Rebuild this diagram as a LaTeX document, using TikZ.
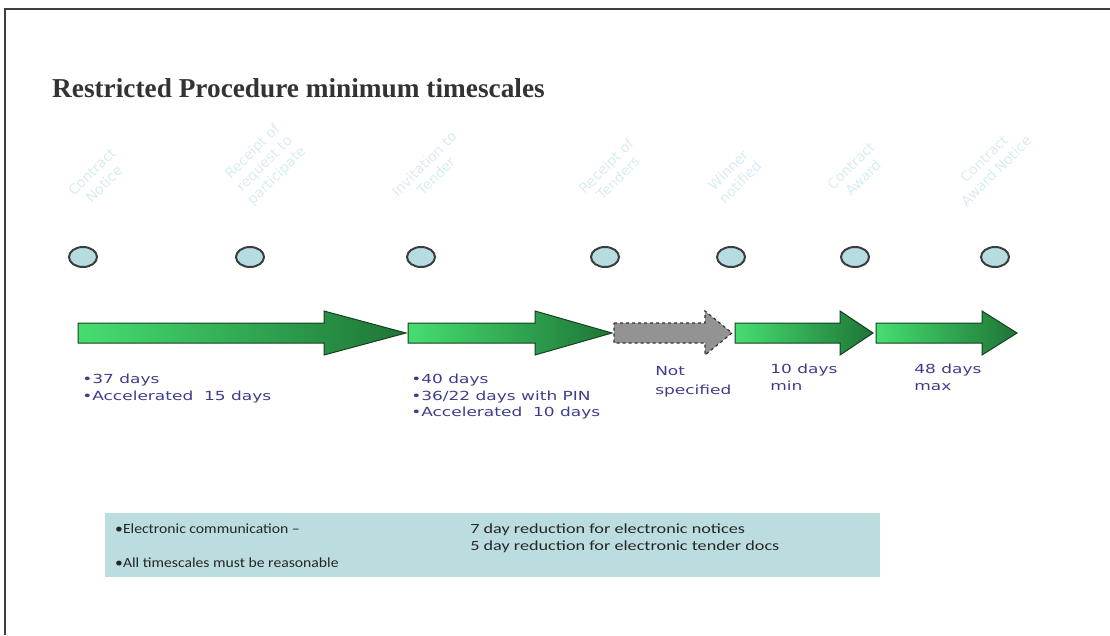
\documentclass[tikz,border=0pt]{standalone}
\usepackage{fontspec}
\setmainfont{Liberation Serif}
\setsansfont{DejaVu Sans}
\newfontfamily\boxfont{Carlito}
\usetikzlibrary{shapes.geometric,positioning}

\definecolor{titlegray}{HTML}{333333}
\definecolor{evfill}{HTML}{B5DCE0}
\definecolor{evline}{HTML}{3C3C3C}
\definecolor{evtext}{HTML}{D8ECF1}
\definecolor{arrowlight}{HTML}{46DE70}
\definecolor{arrowdark}{HTML}{1E7536}
\definecolor{arrowline}{HTML}{17401F}
\definecolor{daytext}{HTML}{3E3D8C}
\definecolor{notefill}{HTML}{BCDDE0}

% arrow: left end, head base, tip
\newcommand{\stagearrow}[4][]{%
  \draw[#1] (#2,323) -- (#3,323) -- (#3,311) -- (#4,333) -- (#3,355) -- (#3,343) -- (#2,343) -- cycle;}

\tikzset{
  event/.style={ellipse, draw=evline, line width=2, fill=evfill, minimum width=28, minimum height=20, inner sep=0},
  evlabel/.style={rotate=45, text=evtext, font=\sffamily\fontsize{14}{17}\selectfont, align=center},
  greenstage/.style={left color=arrowlight, right color=arrowdark, draw=arrowline, line width=1},
  openstage/.style={fill=gray!85, draw=gray!40!black, dashed, line width=1.2},
  days/.style={anchor=north west, text=daytext, align=left, inner sep=0, xscale=1.36, font=\sffamily\fontsize{12.5}{16.5}\selectfont},
  note/.style={anchor=north west, inner sep=0, align=left, text=black!85, font=\boxfont\fontsize{14}{17}\selectfont}
}

\begin{document}
\begin{tikzpicture}[x=1pt, y=-1pt]
    \useasboundingbox (0,0) rectangle (1110,635);
    % Frame
    \draw[line width=2, black!75] (4.5,635) -- (4.5,9) -- (1110,9);

    % Title
    \node[anchor=base west, inner sep=0, text=titlegray, font=\bfseries\fontsize{27.3}{30}\selectfont] (title) at (52,97) {Restricted Procedure minimum timescales};

    % Events
    \node[event] (ev1) at (83,257) {};
    \node[event] (ev2) at (250,257) {};
    \node[event] (ev3) at (421,257) {};
    \node[event] (ev4) at (605,257) {};
    \node[event] (ev5) at (731,257) {};
    \node[event] (ev6) at (855,257) {};
    \node[event] (ev7) at (995,257) {};

    \node[evlabel] (lb1) at (98,178) {Contract\\Notice};
    \node[evlabel] (lb2) at (265,164) {Receipt of\\request to\\participate};
    \node[evlabel] (lb3) at (430,170) {Invitation to\\Tender};
    \node[evlabel] (lb4) at (612,172) {Receipt of\\Tenders};
    \node[evlabel] (lb5) at (734,176) {Winner\\notified};
    \node[evlabel] (lb6) at (857,172) {Contract\\Award};
    \node[evlabel] (lb7) at (990,165) {Contract\\Award Notice};

    % Stages
    \stagearrow[greenstage]{78}{324}{406}
    \stagearrow[greenstage]{408}{535}{612}
    \stagearrow[openstage]{614}{705}{732}
    \stagearrow[greenstage]{735}{840}{873}
    \stagearrow[greenstage]{876}{982}{1017}

    % Durations
    \node[days] (d1) at (82,374) {•37 days\\•Accelerated\ \ 15 days};
    \node[days] (d2) at (411,374) {•40 days\\•36/22 days with PIN\\•Accelerated\ \ 10 days};
    \node[days, font=\sffamily\fontsize{12.5}{19}\selectfont] (d3) at (655,366) {Not\\specified};
    \node[days] (d4) at (770,364) {10 days\\min};
    \node[days] (d5) at (914,364) {48 days\\max};

    % Notes
    \fill[notefill] (105,513) rectangle (880,577);
    \node[note, xscale=1.12] (n1) at (115,524) {•Electronic communication –\\[17pt]•All timescales must be reasonable};
    \node[note, xscale=1.3] (n2) at (470,524) {7 day reduction for electronic notices\\5 day reduction for electronic tender docs};
\end{tikzpicture}
\end{document}
